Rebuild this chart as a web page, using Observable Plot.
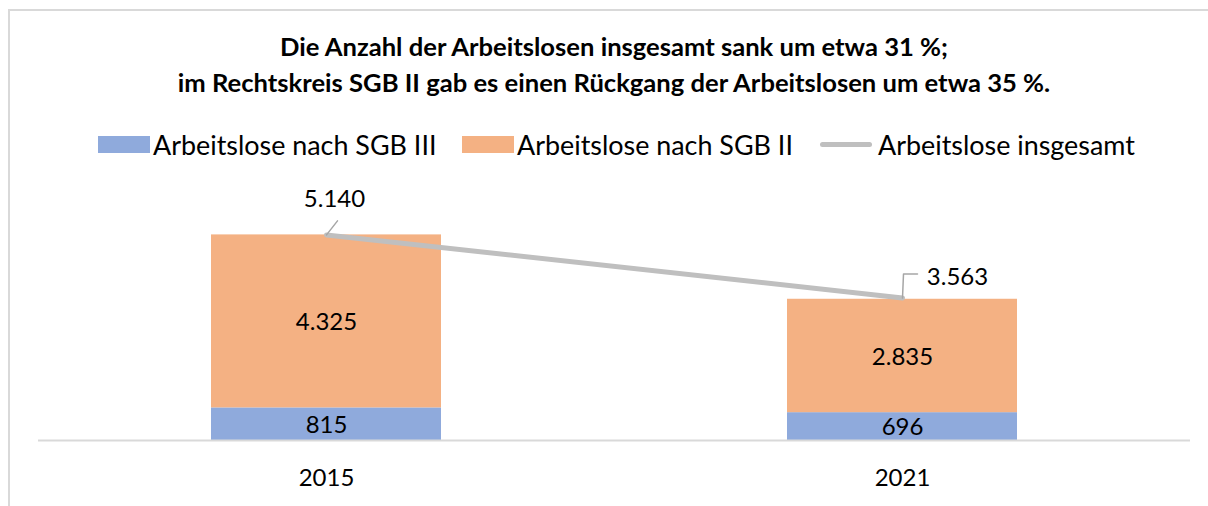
<!DOCTYPE html>
<html>
<head>
<meta charset="utf-8">
<script src="https://cdn.jsdelivr.net/npm/d3@7"></script>
<script src="https://cdn.jsdelivr.net/npm/@observablehq/plot@0.6"></script>
<style>
  html, body { margin: 0; padding: 0; background: #fff; width: 1208px; height: 506px; overflow: hidden; }
  body { font-family: Lato, "Open Sans", sans-serif; position: relative; }
  #frame { position: absolute; left: 8px; top: 9px; width: 1240px; height: 540px; border: 2px solid #d9d9d9; box-sizing: border-box; }
  #title { position: absolute; left: 0; top: 28px; width: 1228px; text-align: center; font-weight: bold; font-size: 25.6px; line-height: 36px; color: #000; }
  .item { position: absolute; top: 128px; height: 32px; display: flex; align-items: center; font-size: 26.9px; color: #000; white-space: nowrap; }
  .sw { display: inline-block; width: 52px; height: 17px; margin-right: 3px; }
  .ln { display: inline-block; width: 52px; height: 5px; border-radius: 3px; background: #bfbfbf; margin-right: 6px; }
  #chart { position: absolute; left: 0; top: 170px; }
</style>
</head>
<body>
<div id="frame"></div>
<div id="title">Die Anzahl der Arbeitslosen insgesamt sank um etwa 31 %;<br>im Rechtskreis SGB II gab es einen Rückgang der Arbeitslosen um etwa 35 %.</div>
<div id="legend"></div>
<div id="chart"></div>
<script>
const years = ["2015", "2021"];
const sgb3 = [815, 696];
const sgb2 = [4325, 2835];
const total = [5140, 3563];
const seriesNames = ["Arbeitslose nach SGB III", "Arbeitslose nach SGB II", "Arbeitslose insgesamt"];
const colors = ["#8faadc", "#f4b183", "#bfbfbf"];

const fmt = d3.formatLocale({decimal: ",", thousands: ".", grouping: [3], currency: ["", " €"]}).format(",");

// legend
const leg = document.getElementById("legend");
const legendLeft = [98, 462, 820];
seriesNames.forEach((name, i) => {
  const it = document.createElement("div");
  it.className = "item";
  it.style.left = legendLeft[i] + "px";
  const sw = document.createElement("span");
  sw.className = i < 2 ? "sw" : "ln";
  if (i < 2) sw.style.background = colors[i];
  it.appendChild(sw);
  const t = document.createElement("span");
  t.textContent = name;
  it.appendChild(t);
  leg.appendChild(it);
});

const stacked = [];
years.forEach((y, i) => {
  stacked.push({year: y, series: seriesNames[0], value: sgb3[i]});
  stacked.push({year: y, series: seriesNames[1], value: sgb2[i]});
});
const totals = years.map((y, i) => ({year: y, value: total[i]}));

const leader2015 = {draw(ctx, l) { ctx.moveTo(0, 0); ctx.lineTo(11, -14); }};
const leader2021 = {draw(ctx, l) { ctx.moveTo(0, 0); ctx.lineTo(1, -24); ctx.lineTo(15, -24); }};

const chart = Plot.plot({
  width: 1208,
  height: 336,
  marginLeft: 38,
  marginRight: 18,
  marginTop: 30,
  marginBottom: 66,
  style: {fontFamily: "Lato, sans-serif", fontSize: "24px", color: "#000", background: "transparent", overflow: "visible"},
  x: {domain: years, paddingInner: 0.6, paddingOuter: 0.3, label: null, tickSize: 0, tickPadding: 28},
  y: {domain: [0, 6000], axis: null},
  color: {domain: seriesNames.slice(0, 2), range: colors.slice(0, 2)},
  marks: [
    Plot.barY(stacked, {x: "year", y: "value", fill: "series", order: seriesNames.slice(0, 2)}),
    Plot.text(stacked, Plot.stackY({x: "year", y: "value", z: "series", order: seriesNames.slice(0, 2), text: d => fmt(d.value), fontSize: 24, fill: "#000", dy: 1})),
    Plot.ruleY([0], {stroke: "#d9d9d9", strokeWidth: 2}),
    Plot.line(totals, {x: "year", y: "value", stroke: colors[2], strokeWidth: 5}),
    Plot.vector(totals.slice(0, 1), {x: "year", y: "value", length: 1, anchor: "start", shape: leader2015, stroke: "#a6a6a6", strokeWidth: 1.5}),
    Plot.vector(totals.slice(1, 2), {x: "year", y: "value", length: 1, anchor: "start", shape: leader2021, stroke: "#a6a6a6", strokeWidth: 1.5}),
    Plot.text(totals.slice(0, 1), {x: "year", y: "value", text: d => fmt(d.value), dx: 8, dy: -36, fontSize: 24}),
    Plot.text(totals.slice(1, 2), {x: "year", y: "value", text: d => fmt(d.value), dx: 55, dy: -21, fontSize: 24})
  ]
});
document.getElementById("chart").appendChild(chart);
</script>
</body>
</html>
